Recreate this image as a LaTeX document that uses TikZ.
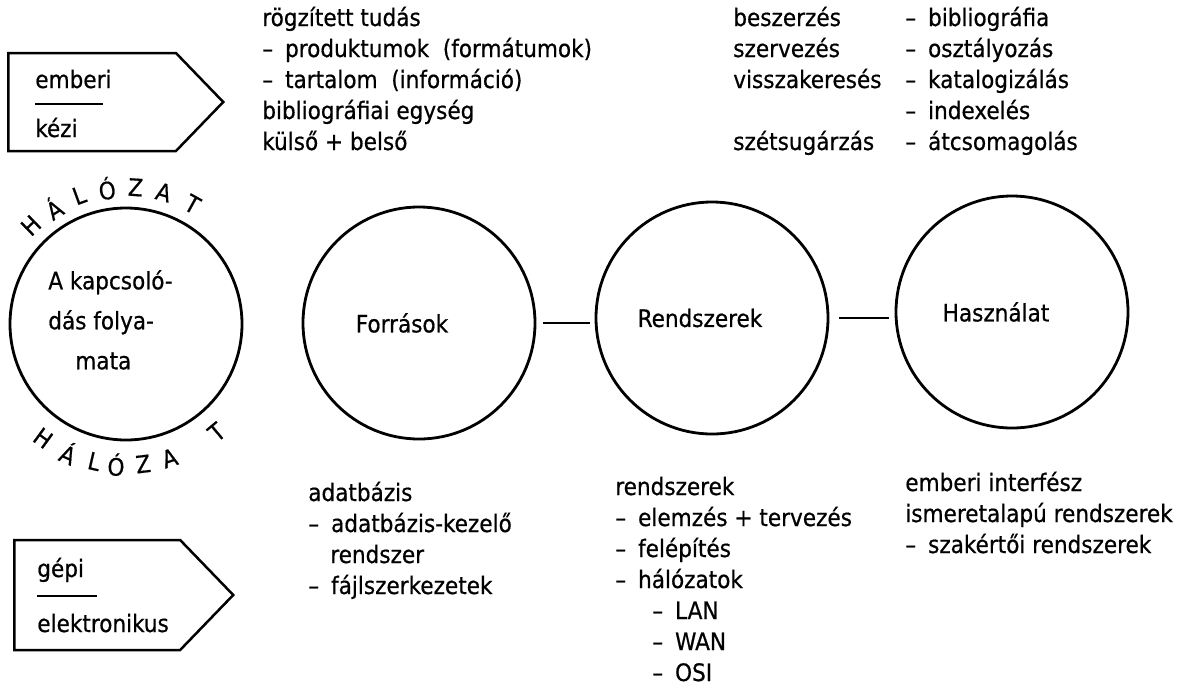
\documentclass[tikz,border=0pt]{standalone}
\usepackage{fontspec}
\setmainfont{DejaVu Sans Condensed}[FakeBold=0.6]
\usetikzlibrary{shapes.symbols}

\tikzset{
  kor/.style={circle, draw, line width=2.8pt, minimum size=232pt, inner sep=0pt},
  jelzes/.style={signal, signal to=east, signal pointer angle=92, draw, line width=2.5pt, inner sep=0pt, anchor=west},
  lista/.style={anchor=north west, align=left, inner sep=0pt, font=\fontsize{24}{31}\selectfont},
  felirat/.style={anchor=base west, inner sep=0pt},
  kapocs/.style={line width=2.8pt},
}
\newcommand{\vonal}{–\enspace}

\begin{document}
\begin{tikzpicture}[x=1pt, y=-1pt, semithick, font=\fontsize{24}{31}\selectfont]
  \useasboundingbox (0,0) rectangle (1195,686);

  % the four circles
  \node [kor] (kapcs) at (126,324) {};
  \node [kor, label={[xshift=-17pt]center:Források}] (forrasok) at (419,323) {};
  \node [kor, label={[xshift=-12pt]center:Rendszerek}] (rendszerek) at (712,318) {};
  \node [kor, label={[xshift=-16pt]center:Használat}] (hasznalat) at (1012,312) {};
  \node [lista, font=\fontsize{24}{40}\selectfont] (kapcsText) at (48,261)
    {\strut A kapcsoló-\\dás folya-\\\hspace{27pt}mata};

  \draw [kapocs] ([xshift=7pt]forrasok.east) -- ([xshift=-5pt]forrasok.east -| rendszerek.west);
  \draw [kapocs] ([xshift=10pt]rendszerek.east) -- ([xshift=-6pt]rendszerek.east -| hasznalat.west);

  % HÁLÓZAT above and below
  \foreach \ch/\a in {H/134, Á/122, L/110, Ó/98, Z/86, A/74, T/61}
    \node [inner sep=0pt, rotate=\a-90] at ([shift={(-\a:137)}]kapcs.center) {\ch};
  \foreach \ch/\b in {H/126, Á/114, L/103, Ó/94, Z/83, A/72, T/50}
    \node [inner sep=0pt, rotate=90-\b] at ([shift={(\b:141)}]kapcs.center) {\ch};

  % the two pointers
  \node [jelzes, minimum width=215pt, minimum height=98pt] (emberi) at (7,102) {};
  \node [felirat] (emberiT) at (35,88) {emberi};
  \node [felirat] (keziT) at (35,137) {kézi};
  \draw [line width=2.3pt] (35,104) -- (103,104);

  \node [jelzes, minimum width=219pt, minimum height=110pt] (gepi) at (13,595) {};
  \node [felirat] (gepiT) at (37,577) {gépi};
  \node [felirat] (elektrT) at (37,632) {elektronikus};
  \draw [line width=2.3pt] (37,596) -- (97,596);

  % lists
  \node [lista] (rogzitett) at (262,4)
    {\strut rögzített tudás\\\vonal produktumok\ \ (formátumok)\\\vonal tartalom\ \ (információ)\\bibliográfiai egység\\külső + belső};
  \node [lista] (muveletek) at (733,4)
    {\strut beszerzés\\szervezés\\visszakeresés\\\mbox{}\\szétsugárzás};
  \node [lista] (eljarasok) at (905,4)
    {\strut\vonal bibliográfia\\\vonal osztályozás\\\vonal katalogizálás\\\vonal indexelés\\\vonal átcsomagolás};
  \node [lista] (adatbazis) at (308,479)
    {\strut adatbázis\\\vonal adatbázis-kezelő\\\hspace{22pt}rendszer\\\vonal fájlszerkezetek};
  \node [lista] (rendszerInfo) at (615,473)
    {\strut rendszerek\\\vonal elemzés + tervezés\\\vonal felépítés\\\vonal hálózatok\\\hspace{37pt}\vonal LAN\\\hspace{37pt}\vonal WAN\\\hspace{37pt}\vonal OSI};
  \node [lista] (interfesz) at (905,469)
    {\strut emberi interfész\\ismeretalapú rendszerek\\\vonal szakértői rendszerek};
\end{tikzpicture}
\end{document}
